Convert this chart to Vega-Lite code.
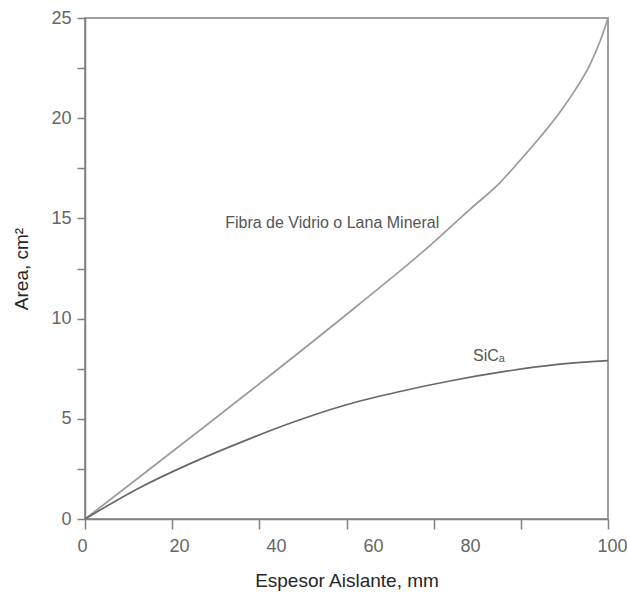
{
  "$schema": "https://vega.github.io/schema/vega-lite/v6.json",
  "width": 523,
  "height": 501,
  "autosize": {"type": "none"},
  "padding": {"left": 85, "top": 18, "right": 19, "bottom": 75},
  "background": "white",
  "config": {
    "view": {"stroke": "#808080", "strokeWidth": 1.5},
    "font": "Liberation Sans",
    "axis": {
      "domainColor": "#808080", "domainWidth": 1.5,
      "tickColor": "#808080", "tickWidth": 1.5,
      "labelFont": "Liberation Sans", "labelFontSize": 18, "labelColor": "#666666",
      "titleFont": "Liberation Sans", "titleFontSize": 19, "titleColor": "#262626", "titleFontWeight": "normal",
      "grid": false
    }
  },
  "datasets": {
    "curves": [
      {"serie": "Fibra", "espesor": 0, "area": 0},
      {"serie": "Fibra", "espesor": 52.0, "area": 10.63},
      {"serie": "Fibra", "espesor": 64.0, "area": 13.2},
      {"serie": "Fibra", "espesor": 73.6, "area": 15.45},
      {"serie": "Fibra", "espesor": 79.4, "area": 16.8},
      {"serie": "Fibra", "espesor": 83.2, "area": 17.9},
      {"serie": "Fibra", "espesor": 87.0, "area": 19.05},
      {"serie": "Fibra", "espesor": 90.8, "area": 20.3},
      {"serie": "Fibra", "espesor": 93.7, "area": 21.4},
      {"serie": "Fibra", "espesor": 96.6, "area": 22.7},
      {"serie": "Fibra", "espesor": 98.5, "area": 23.85},
      {"serie": "Fibra", "espesor": 100, "area": 25.0},
      {"serie": "SiC", "espesor": 0, "area": 0},
      {"serie": "SiC", "espesor": 10, "area": 1.5},
      {"serie": "SiC", "espesor": 20, "area": 2.75},
      {"serie": "SiC", "espesor": 30, "area": 3.85},
      {"serie": "SiC", "espesor": 40, "area": 4.85},
      {"serie": "SiC", "espesor": 50, "area": 5.7},
      {"serie": "SiC", "espesor": 60, "area": 6.35},
      {"serie": "SiC", "espesor": 70, "area": 6.9},
      {"serie": "SiC", "espesor": 80, "area": 7.35},
      {"serie": "SiC", "espesor": 90, "area": 7.7},
      {"serie": "SiC", "espesor": 100, "area": 7.9}
    ],
    "labels": [
      {"texto": "Fibra de Vidrio o Lana Mineral", "espesor": 26.8, "area": 14.75},
      {"texto": "SiCₐ", "espesor": 74.2, "area": 8.15}
    ]
  },
  "layer": [
    {
      "data": {"name": "curves"},
      "mark": {"type": "line", "interpolate": "monotone", "strokeWidth": 1.7},
      "encoding": {
        "x": {
          "field": "espesor", "type": "quantitative",
          "scale": {"domain": [0, 100], "nice": false, "zero": false},
          "axis": {
            "title": "Espesor Aislante, mm",
            "values": [0, 16.6667, 33.3333, 50, 66.6667, 83.3333, 100],
            "labelExpr": "datum.value > 99 ? '100' : (datum.value > 80 ? '' : format(round(datum.value * 1.2), 'd'))",
            "labelOffset": {"expr": "datum.value > 99 ? 4 : -3 + 0.59 * datum.value"},
            "tickSize": 10, "labelPadding": 8, "titlePadding": 16, "labelFlush": false
          }
        },
        "y": {
          "field": "area", "type": "quantitative",
          "scale": {"domain": [0, 25], "nice": false},
          "axis": {
            "title": "Area, cm²",
            "values": [0, 2.5, 5, 7.5, 10, 12.5, 15, 17.5, 20, 22.5, 25],
            "labelExpr": "datum.value % 5 == 0 ? format(datum.value, 'd') : ''",
            "tickSize": 8, "labelPadding": 6, "titlePadding": 19, "labelFlush": false
          }
        },
        "color": {
          "field": "serie", "type": "nominal",
          "scale": {"domain": ["Fibra", "SiC"], "range": ["#9a9a9a", "#686868"]},
          "legend": null
        }
      }
    },
    {
      "data": {"name": "labels"},
      "mark": {"type": "text", "align": "left", "baseline": "middle", "fontSize": 16, "color": "#555555", "font": "Liberation Sans"},
      "encoding": {
        "x": {"field": "espesor", "type": "quantitative"},
        "y": {"field": "area", "type": "quantitative"},
        "text": {"field": "texto"}
      }
    }
  ]
}
